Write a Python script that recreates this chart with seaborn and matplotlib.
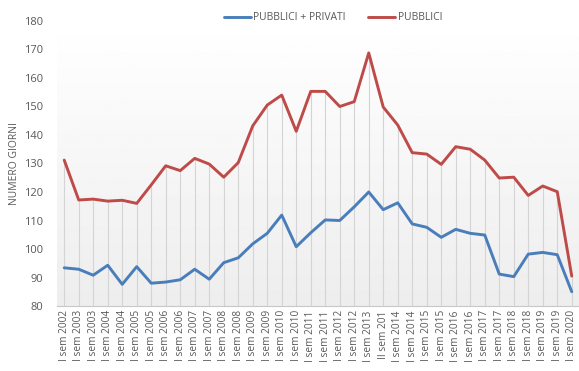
import numpy as np
import pandas as pd
import matplotlib
matplotlib.use("Agg")
import matplotlib.pyplot as plt
import seaborn as sns

# Semester labels on the x axis
labels = [
    "I sem 2002", "I sem 2003", "I sem 2003", "I sem 2004", "I sem 2004",
    "I sem 2005", "I sem 2005", "I sem 2006", "I sem 2006", "I sem 2007",
    "I sem 2007", "I sem 2008", "I sem 2008", "I sem 2009", "I sem 2009",
    "I sem 2010", "I sem 2010", "I sem 2011", "I sem 2011", "I sem 2012",
    "I sem 2012", "I sem 2013", "II sem 201", "I sem 2014", "I sem 2014",
    "I sem 2015", "I sem 2015", "I sem 2016", "I sem 2016", "I sem 2017",
    "I sem 2017", "I sem 2018", "I sem 2018", "I sem 2019", "I sem 2019",
    "I sem 2020",
]

# Average number of days, public + private
pubblici_privati = [
    93.4, 92.9, 90.8, 94.3, 87.6, 93.8, 88.0, 88.4, 89.2, 92.9,
    89.4, 95.2, 96.9, 101.8, 105.5, 111.9, 100.8, 105.7, 110.2, 110.0,
    114.8, 120.0, 113.8, 116.2, 108.8, 107.6, 104.1, 106.9, 105.5, 104.9,
    91.2, 90.3, 98.2, 98.8, 98.0, 85.0,
]

# Average number of days, public only
pubblici = [
    131.2, 117.2, 117.5, 116.8, 117.1, 116.0, 122.5, 129.2, 127.5, 131.8,
    129.8, 125.2, 130.3, 143.2, 150.5, 154.0, 141.3, 155.3, 155.3, 150.0,
    151.7, 168.8, 149.8, 143.5, 133.8, 133.3, 129.7, 135.9, 135.0, 131.2,
    124.9, 125.2, 118.8, 122.1, 120.1, 90.5,
]

series_names = ["PUBBLICI + PRIVATI", "PUBBLICI"]
colors = ["#4A7EBB", "#BE4B48"]
text_color = "#595959"

sns.set_style("white")
plt.rcParams["font.family"] = ["Open Sans", "DejaVu Sans"]

n = len(labels)
df = pd.DataFrame({
    "pos": list(range(n)) * 2,
    "giorni": pubblici_privati + pubblici,
    "serie": [series_names[0]] * n + [series_names[1]] * n,
})

fig = plt.figure(figsize=(5.79, 3.71), dpi=100)
ax = fig.add_axes([0.0984, 0.1752, 0.9016, 0.7682])

ymin, ymax = 80, 180
xmin, xmax = -0.5, n - 0.5

# Plot-area background: white at the top fading to light grey at the bottom
grad = np.linspace(1.0, 0.93, 256).reshape(-1, 1)
ax.imshow(grad, extent=[xmin, xmax, ymin, ymax], aspect="auto",
          cmap="gray", vmin=0, vmax=1, zorder=0, origin="upper")

# Drop lines from the highest series down to the axis
tops = np.maximum(pubblici, pubblici_privati)
ax.vlines(range(n), ymin, tops, colors="#d4d4d4", linewidth=0.8, zorder=1)

sns.lineplot(data=df, x="pos", y="giorni", hue="serie", hue_order=series_names,
             palette=colors, linewidth=2.1, ax=ax, legend=False, zorder=3)

ax.set_xlim(xmin, xmax)
ax.set_ylim(ymin, ymax)
ax.set_yticks(range(80, 181, 10))
ax.set_xticks(range(n))
ax.set_xticklabels(labels, rotation=90, fontsize=7.3, color=text_color)
ax.tick_params(axis="y", labelsize=8, colors=text_color, length=0, pad=10)
ax.tick_params(axis="x", length=0, pad=3)
ax.set_xlabel("")
ax.set_ylabel("NUMERO GIORNI", fontsize=7.5, color=text_color, labelpad=3)

for side in ["top", "right", "left"]:
    ax.spines[side].set_visible(False)
ax.spines["bottom"].set_color("#c8c8c8")
ax.spines["bottom"].set_linewidth(0.8)

handles = [plt.Line2D([0], [0], color=c, linewidth=2.1) for c in colors]
fig.legend(handles, series_names, loc="center", bbox_to_anchor=(0.575, 0.952),
           ncol=2, frameon=False, fontsize=7.5, labelcolor=text_color,
           handlelength=2.6, handletextpad=0.2, columnspacing=2.2)

fig.savefig("out.png", dpi=100)
